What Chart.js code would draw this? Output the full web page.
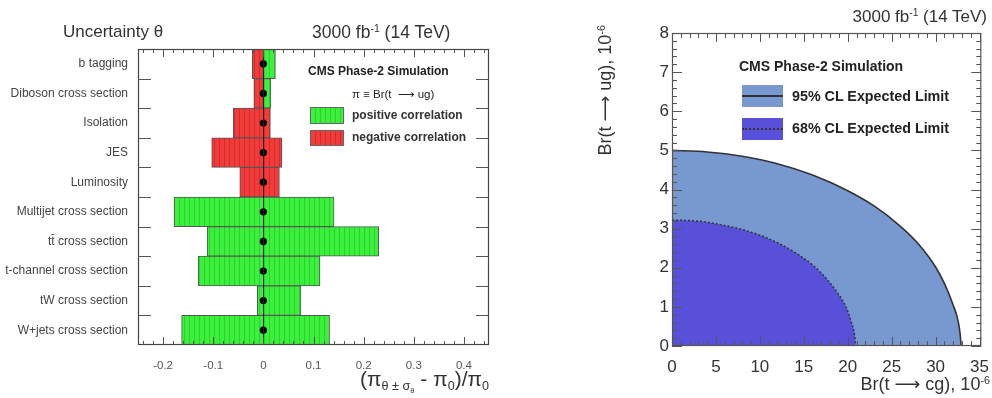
<!DOCTYPE html>
<html><head><meta charset="utf-8">
<script src="https://cdn.jsdelivr.net/npm/chart.js@4.4.0/dist/chart.umd.min.js"></script>
<style>
html,body{margin:0;padding:0;background:#fff;}
body{width:992px;height:398px;position:relative;overflow:hidden;font-family:"Liberation Sans",Arial,Helvetica,sans-serif;color:#222;}
canvas{position:absolute;top:0;}
.t{position:absolute;white-space:nowrap;line-height:1;}
.t sup{font-size:60%;vertical-align:0;position:relative;top:-0.6em;}
.t sub{font-size:60%;vertical-align:0;position:relative;top:0.35em;}
.ar{font-family:"DejaVu Sans",sans-serif;}
.box{position:absolute;box-sizing:border-box;}
</style></head><body>
<canvas id="c1" width="500" height="398" style="left:0"></canvas>
<canvas id="c2" width="432" height="398" style="left:560px"></canvas>

<!-- left panel texts -->
<div class="t" style="left:63px;top:23px;font-size:17px;color:#333;">Uncertainty θ</div>
<div class="t" style="left:312px;top:24px;font-size:17.5px;color:#333;">3000 fb<sup>-1</sup> (14 TeV)</div>
<div class="t" style="left:308px;top:65px;font-size:12px;font-weight:bold;color:#222;">CMS Phase-2 Simulation</div>
<div class="t" style="left:352px;top:89px;font-size:11.5px;color:#222;">π ≡ Br(t &nbsp;<span class="ar">⟶</span> ug)</div>
<div class="box" style="left:310px;top:107px;width:34px;height:17px;border:1px solid #666;background:repeating-linear-gradient(90deg,#3ef03e 0px,#3ef03e 4px,#2cd22c 4px,#2cd22c 5px);"></div>
<div class="box" style="left:310px;top:130px;width:34px;height:16px;border:1px solid #666;background:repeating-linear-gradient(90deg,#f23c3c 0px,#f23c3c 4px,#d42b2b 4px,#d42b2b 5px);"></div>
<div class="t" style="left:352px;top:109px;font-size:12px;font-weight:bold;color:#333;">positive correlation</div>
<div class="t" style="left:352px;top:131px;font-size:12px;font-weight:bold;color:#333;">negative correlation</div>
<div class="t" style="right:503px;top:368px;font-size:21px;color:#333;">(π<sub>θ ± σ<sub>θ</sub></sub> - π<sub>0</sub>)/π<sub>0</sub></div>

<!-- right panel texts -->
<div class="t" style="right:5px;top:8px;font-size:17px;color:#333;">3000 fb<sup>-1</sup> (14 TeV)</div>
<div class="t" style="left:739px;top:59px;font-size:14px;font-weight:bold;color:#222;">CMS Phase-2 Simulation</div>
<div class="box" style="left:742px;top:85px;width:41px;height:22px;background:rgb(120,152,208);"></div>
<div class="box" style="left:742px;top:95px;width:41px;height:2px;background:#333;"></div>
<div class="box" style="left:742px;top:118px;width:41px;height:22px;background:rgb(88,80,216);"></div>
<div class="box" style="left:742px;top:128px;width:41px;height:0;border-top:2px dotted #333;"></div>
<div class="t" style="left:792px;top:89px;font-size:14.3px;font-weight:bold;color:#222;">95% CL Expected Limit</div>
<div class="t" style="left:792px;top:121px;font-size:14.3px;font-weight:bold;color:#222;">68% CL Expected Limit</div>
<div class="t" style="right:2px;top:375px;font-size:18px;color:#333;">Br(t <span class="ar">⟶</span> cg), 10<sup>-6</sup></div>
<div class="t" style="left:596px;top:195px;width:170px;text-align:right;font-size:18px;color:#333;transform-origin:0 0;transform:rotate(-90deg);">Br(t <span class="ar">⟶</span> ug), 10<sup>-6</sup></div>

<script>
// ---------------- DATA (left panel) ----------------
const categories = ["b tagging","Diboson cross section","Isolation","JES","Luminosity","Multijet cross section","tt\u0304 cross section","t-channel cross section","tW cross section","W+jets cross section"];
const posLow  = [0,      0,      null,  null,   null,   -0.178, -0.112, -0.130, -0.012, -0.163];
const posHigh = [0.024,  0.015,  null,  null,   null,    0.141,  0.230,  0.113,  0.075,  0.132];
const negLow  = [-0.022, -0.019, -0.060, -0.103, -0.047, null,   null,   null,   null,   null];
const negHigh = [0,      0,      0.014,  0.037,  0.032,  null,   null,   null,   null,   null];
const central = [0, 0, 0, 0, 0, 0, 0, 0, 0, 0];
const xTicksLeft = [-0.2, -0.1, 0, 0.1, 0.2, 0.3, 0.4];
const xTickLabelsLeft = ["-0.2", "-0.1", "0", "0.1", "0.2", "0.3", "0.4"];

// ---------------- DATA (right panel) ----------------
const cl95_x = [0, 4, 8, 12, 16, 20, 23, 26, 28, 30, 31, 32, 32.5, 32.8, 32.9];
const cl95_y = [5.0, 4.96, 4.85, 4.66, 4.37, 3.97, 3.58, 3.06, 2.62, 2.02, 1.6, 1.05, 0.7, 0.3, 0];
const cl68_x = [0, 3, 6, 9, 12, 14, 16, 17.5, 18.8, 19.8, 20.4, 20.8, 20.9];
const cl68_y = [3.22, 3.19, 3.08, 2.91, 2.64, 2.39, 2.07, 1.74, 1.37, 1.0, 0.62, 0.25, 0];
const xTicksRight = [0, 5, 10, 15, 20, 25, 30, 35];
const yTicksRight = [0, 1, 2, 3, 4, 5, 6, 7, 8];

// ---------------- helpers ----------------
function stripes(canvas, base, line) {
  const c = document.createElement('canvas'); c.width = 5; c.height = 4;
  const g = c.getContext('2d');
  g.fillStyle = base; g.fillRect(0, 0, 5, 4);
  g.fillStyle = line; g.fillRect(4, 0, 1, 4);
  return canvas.getContext('2d').createPattern(c, 'repeat');
}
function range(a, b, s) { const r = []; for (let v = a; v <= b + 1e-9; v += s) r.push(+v.toFixed(6)); return r; }

const c1 = document.getElementById('c1');
const c2 = document.getElementById('c2');
const greenPat = stripes(c1, '#3ef03e', '#2cd22c');
const redPat = stripes(c1, '#f23c3c', '#d42b2b');

// ---------------- left chart ----------------
const leftFrame = {
  id: 'leftFrame',
  afterDatasetsDraw(chart) {
    const { ctx, chartArea: a, scales: { x, y } } = chart;
    ctx.save();
    const x0 = Math.round(x.getPixelForValue(0)) + 0.5;
    ctx.strokeStyle = '#222'; ctx.lineWidth = 1;
    ctx.beginPath(); ctx.moveTo(x0, a.top); ctx.lineTo(x0, a.bottom); ctx.stroke();
    ctx.strokeStyle = '#444'; ctx.lineWidth = 1.2;
    ctx.strokeRect(a.left + 0.5, a.top + 0.5, a.right - a.left - 1, a.bottom - a.top - 1);
    ctx.strokeStyle = '#555'; ctx.lineWidth = 1;
    ctx.beginPath();
    range(-0.24, 0.44, 0.02).forEach(v => {
      const px = Math.round(x.getPixelForValue(v)) + 0.5;
      const major = Math.abs(v * 10 - Math.round(v * 10)) < 1e-6;
      const L = major ? 8 : 4;
      ctx.moveTo(px, a.bottom); ctx.lineTo(px, a.bottom - L);
      ctx.moveTo(px, a.top); ctx.lineTo(px, a.top + L);
    });
    for (let i = 0; i < categories.length - 1; i++) {
      const py = Math.round((y.getPixelForValue(i) + y.getPixelForValue(i + 1)) / 2) + 0.5;
      ctx.moveTo(a.left, py); ctx.lineTo(a.left + 13, py);
      ctx.moveTo(a.right, py); ctx.lineTo(a.right - 13, py);
    }
    ctx.stroke();
    ctx.restore();
  }
};

new Chart(c1, {
  type: 'bar',
  data: {
    labels: categories,
    datasets: [
      { label: 'negative correlation', data: categories.map((c, i) => negLow[i] === null ? null : [negLow[i], negHigh[i]]),
        backgroundColor: redPat, borderColor: '#555', borderWidth: 1, borderSkipped: false, grouped: false,
        barPercentage: 1, categoryPercentage: 1 },
      { label: 'positive correlation', data: categories.map((c, i) => posLow[i] === null ? null : [posLow[i], posHigh[i]]),
        backgroundColor: greenPat, borderColor: '#555', borderWidth: 1, borderSkipped: false, grouped: false,
        barPercentage: 1, categoryPercentage: 1 },
      { type: 'line', label: 'nominal', indexAxis: 'y', order: -1,
        data: categories.map((c, i) => ({ x: central[i], y: c })),
        showLine: false, pointRadius: 3.6, pointBackgroundColor: '#000', pointBorderColor: '#000', pointBorderWidth: 0 }
    ]
  },
  options: {
    indexAxis: 'y', responsive: false, animation: false, devicePixelRatio: 1,
    layout: { padding: { top: 49, right: 11, left: 0, bottom: 0 } },
    plugins: { legend: { display: false }, tooltip: { enabled: false } },
    scales: {
      x: {
        type: 'linear', min: -0.25, max: 0.45,
        afterBuildTicks: s => { s.ticks = xTicksLeft.map(v => ({ value: v })); },
        afterFit: s => { s.height = 53; },
        grid: { display: false }, border: { display: false },
        ticks: { padding: 6, color: '#555', font: { family: '"Liberation Sans", Arial', size: 11.5 },
          callback: (v, i) => xTickLabelsLeft[i] }
      },
      y: {
        type: 'category',
        afterFit: s => { s.width = 138; },
        grid: { display: false, drawTicks: false }, border: { display: false },
        ticks: { padding: 10, color: '#444', font: { family: '"Liberation Sans", Arial', size: 12 } }
      }
    }
  },
  plugins: [leftFrame]
});

// ---------------- right chart ----------------
const rightFrame = {
  id: 'rightFrame',
  afterDatasetsDraw(chart) {
    const { ctx, chartArea: a, scales: { x, y } } = chart;
    ctx.save();
    ctx.strokeStyle = '#555'; ctx.lineWidth = 1;
    ctx.beginPath();
    range(0, 35, 1).forEach(v => {
      const px = Math.round(x.getPixelForValue(v)) + 0.5;
      const L = (v % 5 === 0) ? 9 : 5;
      ctx.moveTo(px, a.bottom); ctx.lineTo(px, a.bottom - L);
      ctx.moveTo(px, a.top); ctx.lineTo(px, a.top + L);
    });
    range(0, 8, 0.2).forEach(v => {
      const py = Math.round(y.getPixelForValue(v)) + 0.5;
      const L = Math.abs(v - Math.round(v)) < 1e-6 ? 10 : 5;
      ctx.moveTo(a.left, py); ctx.lineTo(a.left + L, py);
      ctx.moveTo(a.right, py); ctx.lineTo(a.right - L, py);
    });
    ctx.stroke();
    ctx.strokeStyle = '#555'; ctx.lineWidth = 1.2;
    ctx.strokeRect(a.left + 0.5, a.top + 0.5, a.right - a.left - 1, a.bottom - a.top - 1);
    ctx.restore();
  }
};

new Chart(c2, {
  type: 'scatter',
  data: {
    datasets: [
      { label: '68% CL Expected Limit', data: cl68_x.map((v, i) => ({ x: v, y: cl68_y[i] })),
        showLine: true, cubicInterpolationMode: 'monotone', fill: 'origin',
        backgroundColor: 'rgb(88,80,216)', borderColor: '#333', borderWidth: 1.5, borderDash: [2, 2],
        pointRadius: 0 },
      { label: '95% CL Expected Limit', data: cl95_x.map((v, i) => ({ x: v, y: cl95_y[i] })),
        showLine: true, cubicInterpolationMode: 'monotone', fill: 'origin',
        backgroundColor: 'rgb(120,152,208)', borderColor: '#333', borderWidth: 1.6,
        pointRadius: 0 }
    ]
  },
  options: {
    responsive: false, animation: false, devicePixelRatio: 1,
    layout: { padding: { top: 33, right: 5, left: 0, bottom: 0 } },
    plugins: { legend: { display: false }, tooltip: { enabled: false } },
    scales: {
      x: {
        type: 'linear', min: 0, max: 35.2,
        afterBuildTicks: s => { s.ticks = xTicksRight.map(v => ({ value: v })); },
        afterFit: s => { s.height = 52; },
        grid: { display: false }, border: { display: false },
        ticks: { padding: 3, color: '#333', font: { family: '"Liberation Sans", Arial', size: 17 } }
      },
      y: {
        type: 'linear', min: 0, max: 8,
        afterBuildTicks: s => { s.ticks = yTicksRight.map(v => ({ value: v })); },
        afterFit: s => { s.width = 112; },
        grid: { display: false, drawTicks: false }, border: { display: false },
        ticks: { padding: 3, color: '#333', font: { family: '"Liberation Sans", Arial', size: 17 } }
      }
    }
  },
  plugins: [rightFrame]
});
</script>
</body></html>
